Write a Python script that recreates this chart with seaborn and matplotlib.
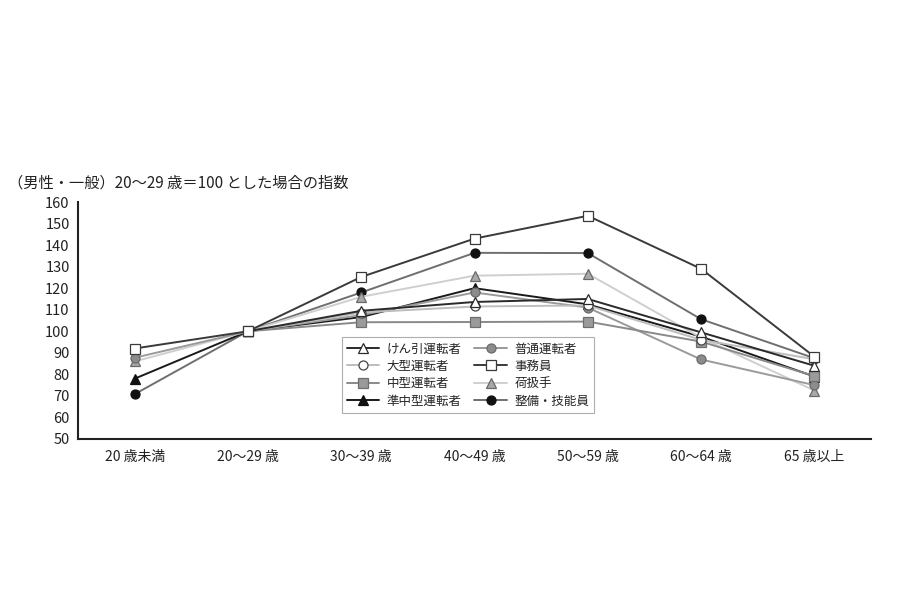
import numpy as np
import pandas as pd
import matplotlib
matplotlib.use("Agg")
import matplotlib.pyplot as plt
from matplotlib.lines import Line2D
import seaborn as sns

categories = ["20 歳未満", "20～29 歳", "30～39 歳", "40～49 歳", "50～59 歳", "60～64 歳", "65 歳以上"]
series_names = ["けん引運転者", "大型運転者", "中型運転者", "準中型運転者",
                "普通運転者", "事務員", "荷扱手", "整備・技能員"]
kenin   = [np.nan, 100, 109.5, 113.6, 115.0, 99.5, 84.0]
oogata  = [np.nan, 100, 108.7, 111.5, 112.0, 96.0, 87.0]
chugata = [np.nan, 100, 104.2, 104.3, 104.5, 95.2, 79.2]
junchu  = [78.0, 100, 106.6, 120.0, 112.5, 97.5, 79.0]
futsu   = [87.7, 100, 107.5, 118.0, 111.0, 86.9, 75.0]
jimuin  = [92.0, 100, 125.2, 143.0, 153.6, 129.0, 88.2]
niatsu  = [86.0, 100, 116.0, 125.8, 126.7, 97.0, 72.5]
seibi   = [70.8, 100, 118.0, 136.4, 136.3, 105.6, 87.5]
series_values = [kenin, oogata, chugata, junchu, futsu, jimuin, niatsu, seibi]
y_ticks = [50, 60, 70, 80, 90, 100, 110, 120, 130, 140, 150, 160]
title_text = "（男性・一般）20～29 歳＝100 とした場合の指数"

styles = {
    "けん引運転者": dict(color="#2a2a2a", marker="^", mfc="white", mec="#2a2a2a"),
    "大型運転者": dict(color="#bdbdbd", marker="o", mfc="white", mec="#444444"),
    "中型運転者": dict(color="#8a8a8a", marker="s", mfc="#9a9a9a", mec="#6e6e6e"),
    "準中型運転者": dict(color="#1a1a1a", marker="^", mfc="#111111", mec="#111111"),
    "普通運転者": dict(color="#9a9a9a", marker="o", mfc="#8c8c8c", mec="#6a6a6a"),
    "事務員": dict(color="#3a3a3a", marker="s", mfc="white", mec="#3a3a3a"),
    "荷扱手": dict(color="#cfcfcf", marker="^", mfc="#a8a8a8", mec="#6a6a6a"),
    "整備・技能員": dict(color="#6f6f6f", marker="o", mfc="#111111", mec="#111111"),
}
draw_order = ["整備・技能員", "準中型運転者", "荷扱手", "普通運転者", "中型運転者",
              "大型運転者", "けん引運転者", "事務員"]

rows = []
for name, vals in zip(series_names, series_values):
    for i, v in enumerate(vals):
        rows.append({"series": name, "x": i, "value": v})
df = pd.DataFrame(rows)

sns.set_theme(style="white")
plt.rcParams["font.family"] = ["Noto Sans CJK JP", "DejaVu Sans"]

fig = plt.figure(figsize=(9, 6), dpi=100)
ax = fig.add_axes([78/900, 1-439/600, (871-78)/900, (439-202)/600])

for k, name in enumerate(draw_order):
    st = styles[name]
    sub = df[df["series"] == name].dropna()
    sns.lineplot(data=sub, x="x", y="value", ax=ax, color=st["color"], lw=1.4,
                 marker=st["marker"], markersize=6.5, markerfacecolor=st["mfc"],
                 markeredgecolor=st["mec"], markeredgewidth=0.9, zorder=3 + k * 0.1)

handles = []
for name in series_names:
    st = styles[name]
    handles.append(Line2D([0], [0], color=st["color"], lw=1.4, marker=st["marker"],
                          markersize=6.5, markerfacecolor=st["mfc"],
                          markeredgecolor=st["mec"], markeredgewidth=0.9))

ax.set_xlim(-0.5, len(categories) - 0.5)
ax.set_ylim(50, 160)
ax.set_yticks(y_ticks)
ax.set_yticklabels([str(t) for t in y_ticks], fontsize=10.5, color="#222222")
ax.set_xticks(range(len(categories)))
ax.set_xticklabels(categories, fontsize=10, color="#222222")
ax.set_xticks([i + 0.5 for i in range(len(categories))], minor=True)
ax.tick_params(axis="x", which="major", length=0, pad=8)
ax.tick_params(axis="x", which="minor", direction="in", length=7, width=1.5, color="#222222")
ax.tick_params(axis="y", which="major", direction="in", length=7, width=1.5, color="#222222", pad=6)
ax.set_xlabel("")
ax.set_ylabel("")
for s in ["top", "right"]:
    ax.spines[s].set_visible(False)
for s in ["left", "bottom"]:
    ax.spines[s].set_color("#222222")
    ax.spines[s].set_linewidth(1.5)
ax.grid(False)

leg = ax.legend(handles, series_names, ncol=2, loc="center",
                bbox_to_anchor=(0.492, 0.27), fontsize=9, frameon=True,
                fancybox=False, edgecolor="#999999", handlelength=2.6,
                columnspacing=1.0, labelspacing=0.35, borderpad=0.4,
                handletextpad=0.6)
leg.get_frame().set_linewidth(0.8)

fig.text(8/900, 1-183/600, title_text, fontsize=11, color="#222222", va="center", ha="left")

fig.savefig("out.png", dpi=100, facecolor="white")
